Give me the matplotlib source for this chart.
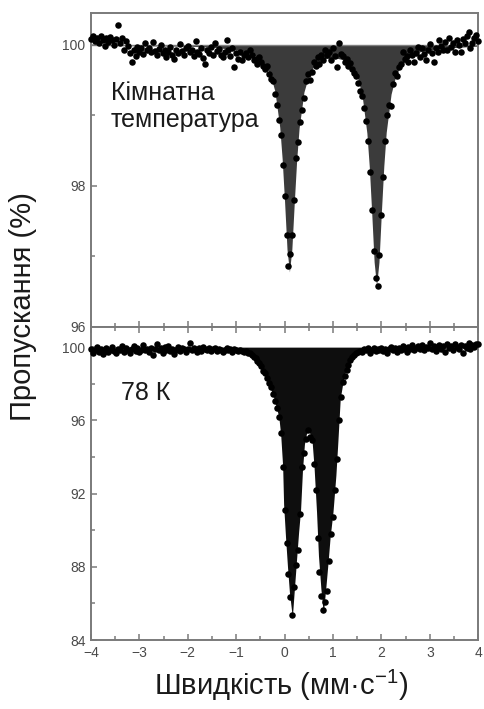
"""
plot.py
───────
Two stacked Mössbauer spectra (room temperature and 78 K): measured
points on top of the filled fitted doublet, shared velocity axis.
"""

import matplotlib
matplotlib.use('Agg')
import matplotlib.pyplot as plt
from matplotlib.ticker import MultipleLocator

# ─── Data ─────────────────────────────────────────────────────────────────────

# velocity channels, mm/s (shared by both spectra)
VELOCITY = [
    -4.00, -3.96, -3.92, -3.88, -3.84, -3.80, -3.76, -3.72, -3.68, -3.64,
    -3.60, -3.56, -3.52, -3.48, -3.44, -3.40, -3.36, -3.32, -3.28, -3.24,
    -3.20, -3.16, -3.12, -3.08, -3.04, -3.00, -2.96, -2.92, -2.88, -2.84,
    -2.80, -2.76, -2.72, -2.68, -2.64, -2.60, -2.56, -2.52, -2.48, -2.44,
    -2.40, -2.36, -2.32, -2.28, -2.24, -2.20, -2.16, -2.12, -2.08, -2.04,
    -2.00, -1.96, -1.92, -1.88, -1.84, -1.80, -1.76, -1.72, -1.68, -1.64,
    -1.60, -1.56, -1.52, -1.48, -1.44, -1.40, -1.36, -1.32, -1.28, -1.24,
    -1.20, -1.16, -1.12, -1.08, -1.04, -1.00, -0.96, -0.92, -0.88, -0.84,
    -0.80, -0.76, -0.72, -0.68, -0.64, -0.60, -0.56, -0.52, -0.48, -0.44,
    -0.40, -0.36, -0.32, -0.28, -0.24, -0.20, -0.16, -0.12, -0.08, -0.04,
    0.00, 0.04, 0.08, 0.12, 0.16, 0.20, 0.24, 0.28, 0.32, 0.36,
    0.40, 0.44, 0.48, 0.52, 0.56, 0.60, 0.64, 0.68, 0.72, 0.76,
    0.80, 0.84, 0.88, 0.92, 0.96, 1.00, 1.04, 1.08, 1.12, 1.16,
    1.20, 1.24, 1.28, 1.32, 1.36, 1.40, 1.44, 1.48, 1.52, 1.56,
    1.60, 1.64, 1.68, 1.72, 1.76, 1.80, 1.84, 1.88, 1.92, 1.96,
    2.00, 2.04, 2.08, 2.12, 2.16, 2.20, 2.24, 2.28, 2.32, 2.36,
    2.40, 2.44, 2.48, 2.52, 2.56, 2.60, 2.64, 2.68, 2.72, 2.76,
    2.80, 2.84, 2.88, 2.92, 2.96, 3.00, 3.04, 3.08, 3.12, 3.16,
    3.20, 3.24, 3.28, 3.32, 3.36, 3.40, 3.44, 3.48, 3.52, 3.56,
    3.60, 3.64, 3.68, 3.72, 3.76, 3.80, 3.84, 3.88, 3.92, 3.96,
    4.00,
]

# transmission, %, room temperature
ROOM_T = [
    100.08, 100.12, 100.05, 100.10, 100.02, 100.13, 100.07, 99.98, 100.09, 100.04,
    100.11, 100.06, 100.00, 100.08, 100.28, 100.03, 100.09, 99.93, 100.05, 99.98,
    99.88, 99.76, 99.92, 99.84, 99.97, 99.90, 99.95, 99.87, 100.02, 99.93,
    99.96, 99.89, 100.04, 99.91, 99.85, 99.94, 99.99, 99.88, 99.92, 99.83,
    99.90, 99.97, 99.86, 99.80, 99.93, 99.88, 100.01, 99.91, 99.85, 99.95,
    99.98, 99.89, 99.92, 99.84, 100.05, 99.90, 99.87, 99.96, 99.81, 99.72,
    99.93, 99.88, 99.97, 99.85, 100.03, 99.91, 99.94, 99.86, 99.83, 99.90,
    100.07, 99.92, 99.84, 99.95, 99.68, 99.88, 99.80, 99.90, 99.79, 99.86,
    99.88, 99.82, 99.93, 99.85, 99.78, 99.80, 99.72, 99.83, 99.75, 99.70,
    99.66, 99.70, 99.58, 99.52, 99.48, 99.30, 99.15, 98.93, 98.72, 98.30,
    97.86, 97.31, 96.87, 97.03, 97.30, 97.80, 98.40, 98.62, 98.90, 99.07,
    99.25, 99.48, 99.58, 99.50, 99.62, 99.75, 99.70, 99.82, 99.72, 99.86,
    99.79, 99.92, 99.85, 99.89, 99.78, 99.95, 99.84, 99.68, 100.03, 99.87,
    99.84, 99.75, 99.80, 99.70, 99.74, 99.65, 99.60, 99.55, 99.46, 99.35,
    99.27, 99.10, 98.92, 98.63, 98.20, 97.66, 97.08, 96.70, 96.58, 97.02,
    97.58, 98.12, 98.63, 99.00, 99.15, 99.13, 99.45, 99.60, 99.55, 99.68,
    99.72, 99.89, 99.80, 99.84, 99.76, 99.92, 99.85, 99.75, 99.88, 99.97,
    99.82, 99.95, 99.87, 99.79, 99.93, 100.01, 99.88, 99.75, 99.96, 99.90,
    100.07, 99.98, 99.93, 100.04, 99.92, 100.10, 99.97, 100.02, 99.89, 100.06,
    99.99, 99.89, 100.08, 100.03, 100.12, 100.18, 99.96, 100.03, 100.09, 100.14,
    100.05,
]

# transmission, %, 78 K
LOW_T = [
    99.92, 99.70, 99.85, 99.98, 99.75, 99.88, 99.62, 99.80, 99.95, 99.72,
    99.87, 100.02, 99.78, 99.66, 99.90, 99.82, 100.05, 99.74, 99.93, 99.85,
    99.68, 99.90, 100.08, 99.80, 99.95, 99.73, 99.86, 100.10, 99.82, 99.92,
    99.76, 99.97, 99.55, 99.88, 100.15, 99.84, 99.93, 99.70, 99.98, 99.87,
    100.05, 99.80, 99.92, 99.63, 99.85, 100.00, 99.78, 99.95, 99.88, 99.74,
    99.90, 100.20, 99.83, 99.96, 99.86, 99.72, 99.93, 99.81, 99.98, 99.89,
    99.84, 99.94, 99.78, 99.88, 99.96, 99.80, 99.91, 99.85, 99.76, 99.87,
    99.93, 99.82, 99.88, 99.75, 99.90, 99.84, 99.78, 99.86, 99.80, 99.74,
    99.78, 99.70, 99.66, 99.56, 99.47, 99.38, 99.24, 99.13, 98.95, 98.72,
    98.58, 98.30, 98.02, 97.82, 97.45, 97.05, 96.65, 96.18, 95.30, 93.45,
    91.10, 89.30, 87.60, 86.36, 85.38, 86.90, 88.10, 88.90, 90.90, 93.45,
    94.20, 95.00, 95.47, 95.10, 94.90, 93.60, 92.20, 89.60, 87.70, 86.40,
    85.65, 86.10, 86.70, 88.30, 89.80, 90.70, 92.20, 93.90, 96.00, 97.27,
    98.10, 98.45, 98.75, 99.05, 99.30, 99.45, 99.58, 99.67, 99.72, 99.80,
    99.75, 99.88, 99.82, 99.93, 99.70, 99.86, 99.95, 99.78, 99.90, 99.84,
    99.97, 99.80, 99.92, 99.68, 99.88, 100.02, 99.85, 99.93, 99.76, 99.95,
    99.86, 100.05, 99.90, 99.72, 99.98, 99.88, 100.10, 99.82, 99.96, 100.06,
    99.90, 100.12, 99.85, 100.02, 99.94, 100.20, 99.88, 100.05, 99.78, 100.00,
    100.10, 99.92, 100.04, 99.75, 100.15, 99.95, 100.08, 99.86, 100.18, 99.98,
    99.90, 100.12, 99.70, 100.05, 99.95, 100.22, 99.88, 100.10, 100.00, 100.18,
    100.15,
]

# fitted envelopes
ROOM_FIT_V = [-4.0, -2.0, -1.5, -1.0, -0.7, -0.5, -0.3, -0.2, -0.1, -0.05,
              0.0, 0.05, 0.1, 0.15, 0.2, 0.25, 0.3, 0.4, 0.5, 0.6,
              0.8, 1.0, 1.2, 1.4, 1.5, 1.6, 1.7, 1.75, 1.8, 1.85,
              1.9, 1.95, 2.0, 2.05, 2.1, 2.2, 2.3, 2.4, 2.6, 2.8,
              3.0, 3.5, 4.0]
ROOM_FIT_T = [99.99, 99.98, 99.965, 99.93, 99.88, 99.80, 99.59, 99.34, 98.83, 98.38,
              97.77, 97.10, 96.78, 97.10, 97.76, 98.37, 98.82, 99.33, 99.57, 99.69,
              99.80, 99.82, 99.79, 99.68, 99.55, 99.29, 98.75, 98.27, 97.62, 96.92,
              96.58, 96.92, 97.63, 98.28, 98.76, 99.30, 99.57, 99.70, 99.84, 99.90,
              99.93, 99.96, 99.98]

LOW_FIT_V = [-4.0, -2.0, -1.2, -0.9, -0.64, -0.43, -0.23, -0.12, -0.08, -0.04,
             -0.02, 0.02, 0.06, 0.10, 0.16, 0.20, 0.25, 0.29, 0.33, 0.37,
             0.41, 0.45, 0.49, 0.53, 0.57, 0.61, 0.66, 0.70, 0.75, 0.80,
             0.85, 0.90, 0.94, 1.00, 1.06, 1.10, 1.15, 1.22, 1.30, 1.40,
             1.55, 1.8, 2.5, 4.0]
LOW_FIT_T = [100.0, 99.97, 99.93, 99.85, 99.45, 98.75, 97.30, 96.20, 95.20, 93.50,
             91.40, 89.60, 88.00, 86.60, 85.25, 86.70, 88.50, 89.90, 91.10, 93.30,
             94.70, 95.25, 95.45, 95.25, 94.80, 93.40, 91.00, 88.60, 86.80, 85.45,
             86.80, 88.30, 89.60, 91.00, 93.00, 94.80, 97.20, 98.30, 99.10, 99.60,
             99.85, 99.94, 99.98, 100.0]

ROOM_LABEL = ['Кімнатна', 'температура']
LOW_LABEL  = '78 К'
X_LABEL    = 'Швидкість (мм·с$^{\\mathregular{-1}}$)'
Y_LABEL    = 'Пропускання (%)'

# ─── Style ────────────────────────────────────────────────────────────────────

plt.rcParams['font.family']      = ['Liberation Sans', 'DejaVu Sans']
plt.rcParams['mathtext.fontset'] = 'custom'
plt.rcParams['mathtext.rm']      = 'Liberation Sans'

SPINE_C = '#7a7a7a'
TICK_C  = '#4a4a4a'
MS      = 22

fig = plt.figure(figsize=(4.84, 7.09), dpi=100)
ax1 = fig.add_axes([0.188, 0.5388, 0.800, 0.4429])
ax2 = fig.add_axes([0.188, 0.0973, 0.800, 0.4415])


def style_axis(ax, ymin, ymax, ymajor, yminor):
    ax.set_xlim(-4, 4)
    ax.set_ylim(ymin, ymax)
    ax.xaxis.set_major_locator(MultipleLocator(1))
    ax.xaxis.set_minor_locator(MultipleLocator(0.5))
    ax.yaxis.set_major_locator(MultipleLocator(ymajor))
    ax.yaxis.set_minor_locator(MultipleLocator(yminor))
    for s in ax.spines.values():
        s.set_color(SPINE_C)
        s.set_linewidth(1.4)
    ax.tick_params(which='both', direction='in', color=SPINE_C, width=1.1,
                   labelcolor=TICK_C, labelsize=10, right=False, top=False)
    ax.tick_params(which='major', length=4.5, pad=4)
    ax.tick_params(which='minor', length=3)


# ─── Room temperature ─────────────────────────────────────────────────────────

ax1.fill_between(ROOM_FIT_V, ROOM_FIT_T, 100, color='#3b3b3b', lw=0, zorder=1)
ax1.axhline(100, color='#808080', lw=1.0, zorder=1.5)
ax1.scatter(VELOCITY, ROOM_T, s=MS, color='black', lw=0, zorder=3, clip_on=False)
style_axis(ax1, 96, 100.45, 2, 1)
ax1.tick_params(axis='x', labelbottom=False)
ax1.text(-3.59, 99.22, ROOM_LABEL[0], fontsize=18, color='#1a1a1a')
ax1.text(-3.59, 98.84, ROOM_LABEL[1], fontsize=18, color='#1a1a1a')

# ─── 78 K ─────────────────────────────────────────────────────────────────────

ax2.fill_between(LOW_FIT_V, LOW_FIT_T, 100, color='#0e0e0e', lw=0, zorder=1)
ax2.scatter(VELOCITY, LOW_T, s=MS, color='black', lw=0, zorder=3, clip_on=False)
style_axis(ax2, 84, 101.1, 4, 2)
ax2.tick_params(axis='x', which='both', top=True)
ax2.text(-3.39, 97.11, LOW_LABEL, fontsize=18, color='#1a1a1a')

# ─── Axis titles ──────────────────────────────────────────────────────────────

fig.text(0.048, 0.567, Y_LABEL, rotation=90, ha='center', va='center',
         fontsize=21, color='#1a1a1a')
fig.text(0.58, 0.02, X_LABEL, ha='center', va='baseline',
         fontsize=21, color='#1a1a1a')

plt.savefig('out.png', dpi=100)
plt.close()
